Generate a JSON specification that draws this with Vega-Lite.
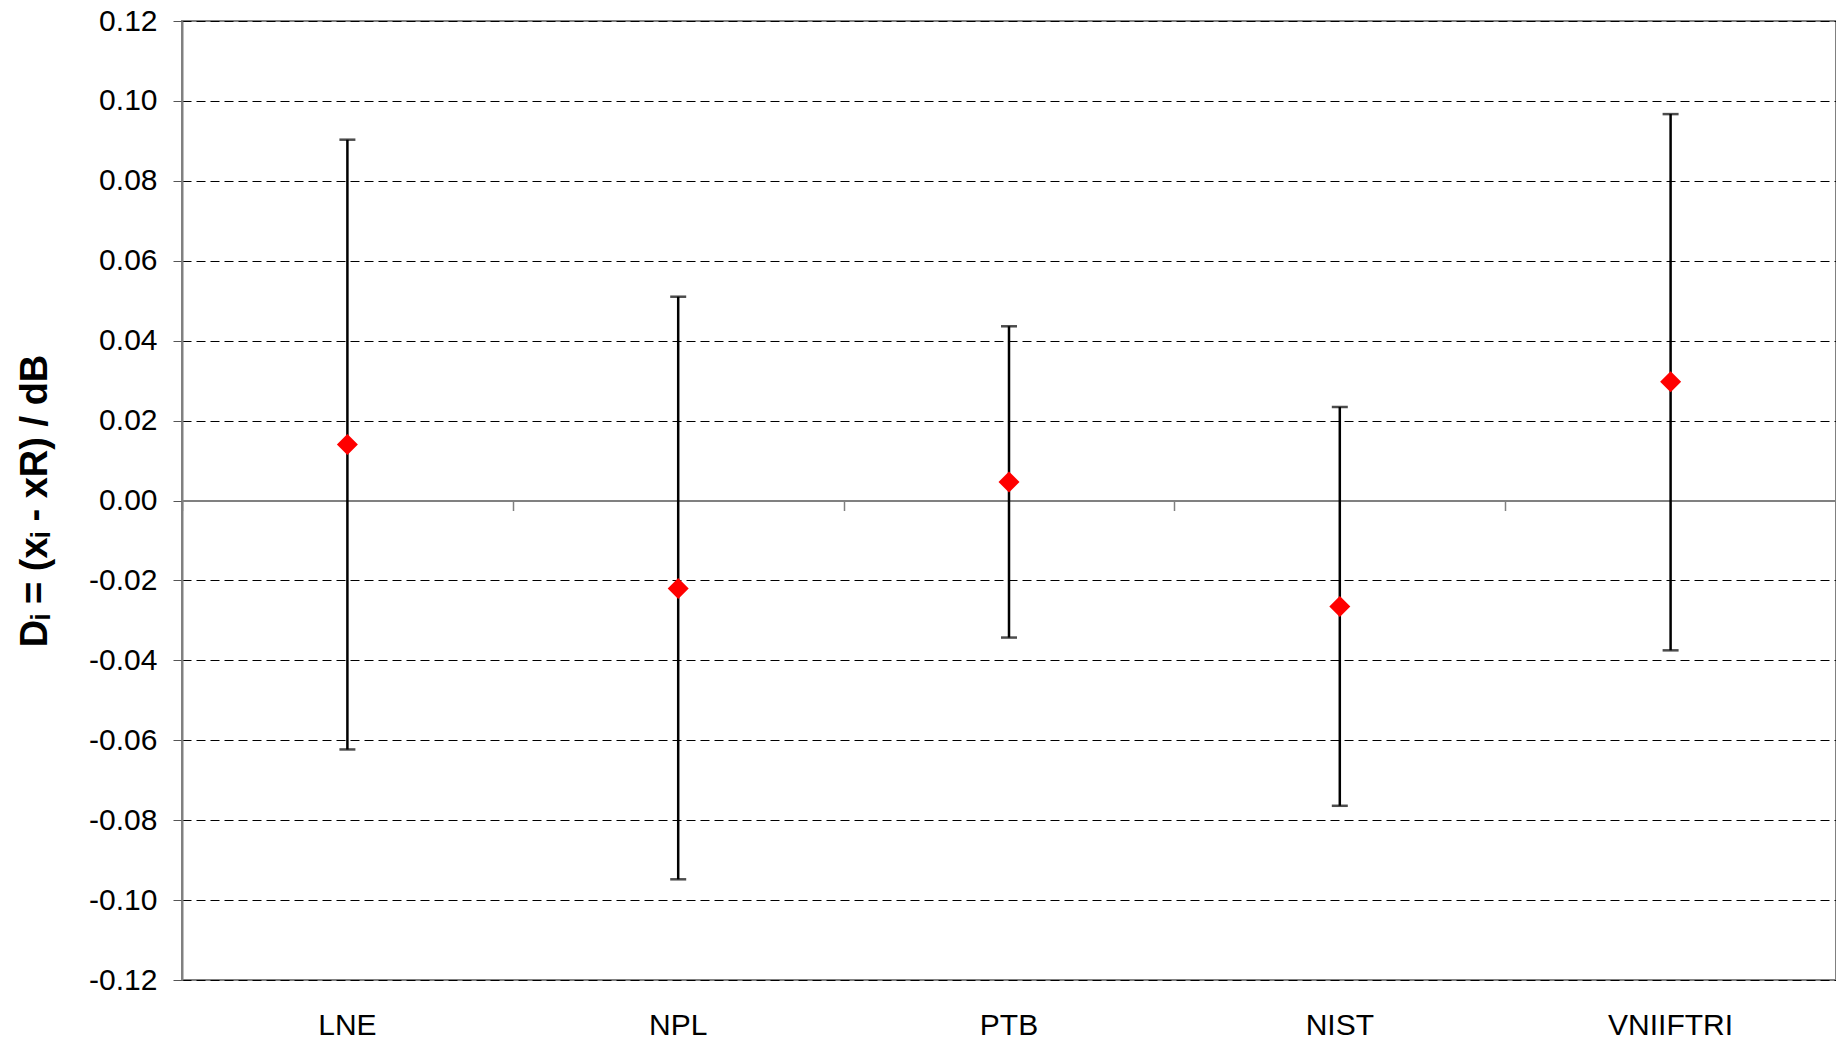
{
  "$schema": "https://vega.github.io/schema/vega-lite/v6.json",
  "width": 1654,
  "height": 959,
  "autosize": {"type": "none"},
  "padding": {"left": 182, "top": 21, "right": 0, "bottom": 63},
  "background": "white",
  "config": {
    "font": "Liberation Sans",
    "locale": {"number": {"decimal": ".", "thousands": ",", "grouping": [3], "currency": ["$", ""], "minus": "-"}},
    "view": {"stroke": "#808080", "strokeWidth": 2},
    "axis": {"labelFont": "Liberation Sans", "labelFontSize": 30, "labelColor": "#000000", "titleFont": "Liberation Sans"}
  },
  "data": {
    "values": [
      {"lab": "LNE", "d": 0.0140, "lo": -0.0623, "hi": 0.0903},
      {"lab": "NPL", "d": -0.0220, "lo": -0.0948, "hi": 0.0510},
      {"lab": "PTB", "d": 0.0046, "lo": -0.0343, "hi": 0.0436},
      {"lab": "NIST", "d": -0.0265, "lo": -0.0764, "hi": 0.0234},
      {"lab": "VNIIFTRI", "d": 0.0297, "lo": -0.0375, "hi": 0.0967}
    ]
  },
  "resolve": {"axis": {"x": "independent"}},
  "layer": [
    {
      "mark": {"type": "rule", "color": "#000000", "strokeWidth": 2.5},
      "encoding": {
        "x": {
          "field": "lab", "type": "nominal", "sort": null,
          "scale": {"type": "band", "paddingInner": 0, "paddingOuter": 0},
          "axis": {"orient": "bottom", "title": null, "domain": false, "ticks": false, "labelPadding": 30, "labelAngle": 0, "grid": false}
        },
        "y": {
          "field": "lo", "type": "quantitative",
          "scale": {"domain": [-0.12, 0.12], "nice": false, "zero": false},
          "axis": {
            "title": "Dᵢ = (xᵢ - xR) / dB",
            "titleFontSize": 38, "titleFontWeight": "bold", "titleColor": "#000000", "titlePadding": 34,
            "values": [-0.12, -0.10, -0.08, -0.06, -0.04, -0.02, 0, 0.02, 0.04, 0.06, 0.08, 0.10, 0.12],
            "format": ".2f",
            "tickSize": 9, "tickColor": "#555555", "tickWidth": 1, "labelPadding": 16,
            "domainColor": "#808080", "domainWidth": 2,
            "grid": true, "gridColor": "#000000", "gridDash": [9, 5], "gridWidth": 1
          }
        },
        "y2": {"field": "hi"}
      }
    },
    {
      "mark": {"type": "tick", "color": "#000000", "size": 16, "thickness": 2.5},
      "encoding": {
        "x": {"field": "lab", "type": "nominal", "sort": null, "axis": null},
        "y": {"field": "lo", "type": "quantitative", "title": "Dᵢ = (xᵢ - xR) / dB"}
      }
    },
    {
      "mark": {"type": "tick", "color": "#000000", "size": 16, "thickness": 2.5},
      "encoding": {
        "x": {"field": "lab", "type": "nominal", "sort": null, "axis": null},
        "y": {"field": "hi", "type": "quantitative", "title": "Dᵢ = (xᵢ - xR) / dB"}
      }
    },
    {
      "mark": {"type": "point", "shape": "diamond", "filled": true, "color": "#ff0000", "size": 441, "opacity": 1, "strokeWidth": 0},
      "encoding": {
        "x": {
          "field": "lab", "type": "nominal", "sort": null,
          "axis": {"orient": "bottom", "offset": {"expr": "-height/2"}, "labels": false, "title": null, "domain": true, "domainColor": "#808080", "domainWidth": 2, "ticks": true, "tickBand": "extent", "tickSize": 10, "tickColor": "#808080", "tickWidth": 1.5, "grid": false}
        },
        "y": {"field": "d", "type": "quantitative", "title": "Dᵢ = (xᵢ - xR) / dB"}
      }
    }
  ]
}
